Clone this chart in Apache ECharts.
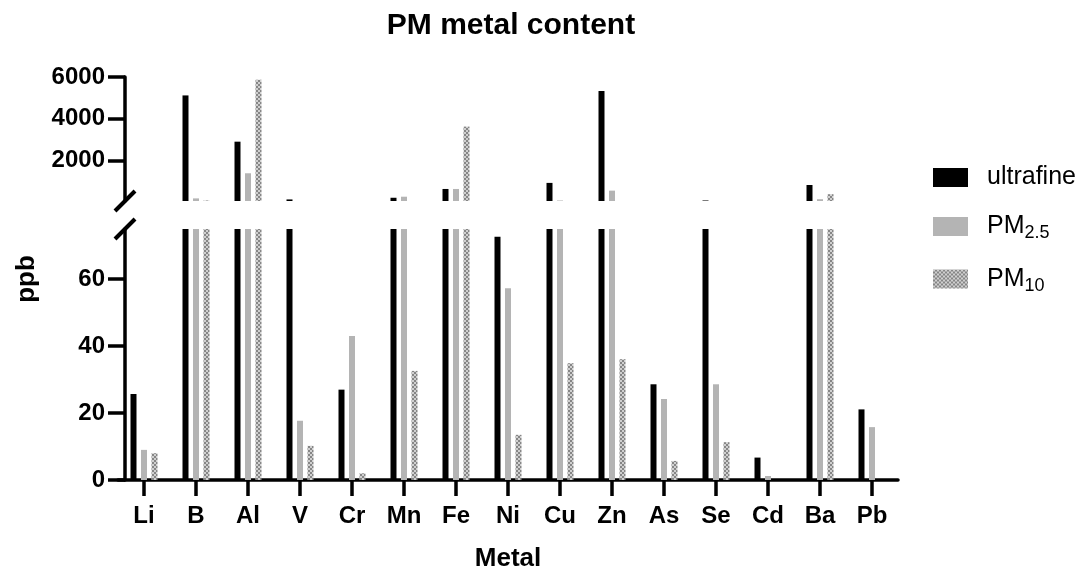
<!DOCTYPE html>
<html>
<head>
<meta charset="utf-8">
<script src="https://cdn.jsdelivr.net/npm/echarts@6/dist/echarts.min.js"></script>
<style>
html,body{margin:0;padding:0;background:#fff;}
#main{width:1088px;height:574px;}
</style>
</head>
<body>
<div id="main"></div>
<script>
// ---- data ----
const categories = ['Li','B','Al','V','Cr','Mn','Fe','Ni','Cu','Zn','As','Se','Cd','Ba','Pb'];
const ultrafine = [25.7, 5120, 2910, 150, 27, 230, 650, 72.7, 940, 5330, 28.6, 100, 6.7, 840, 21.1];
const pm25      = [9.0, 200, 1400, 17.7, 43, 280, 650, 57.3, 100, 570, 24.2, 28.6, 1.2, 160, 15.8];
const pm10      = [8.0, 100, 5870, 10.2, 2.0, 32.6, 3630, 13.5, 34.9, 36.1, 5.7, 11.3, 0, 400, 0];
const seriesNames = ['ultrafine', 'PM2.5', 'PM10'];
const upperTicks = [2000, 4000, 6000];
const lowerTicks = [0, 20, 40, 60];

// ---- layout ----
const FONT = 'Liberation Sans, Arial, Helvetica, sans-serif';
const G_LEFT = 118, G_WIDTH = 780;
const UP_TOP = 77, UP_H = 124;
const LO_TOP = 229, LO_H = 251;
const AX_OFF = -7;
const AXIS_X = G_LEFT - AX_OFF;

function makePattern() {
  const c = document.createElement('canvas');
  c.width = 4; c.height = 4;
  const g = c.getContext('2d');
  g.fillStyle = '#868686';
  g.fillRect(0, 0, 4, 4);
  g.fillStyle = '#d0d0d0';
  g.fillRect(0, 0, 2, 2);
  g.fillRect(2, 2, 2, 2);
  return c;
}
const colors = ['#000000', '#b4b4b4', { image: makePattern(), repeat: 'repeat' }];
const dataSets = [ultrafine, pm25, pm10];

const chart = echarts.init(document.getElementById('main'));

const axisLine = { show: true, lineStyle: { color: '#000', width: 3.5 } };
const yLabel = {
  color: '#000', fontFamily: FONT, fontWeight: 'bold', fontSize: 24, margin: 20,
  formatter: function (v) { return String(v); }
};

const series = [];
for (let g = 0; g < 2; g++) {
  for (let i = 0; i < 3; i++) {
    series.push({
      name: seriesNames[i],
      type: 'bar',
      xAxisIndex: g,
      yAxisIndex: g,
      data: dataSets[i],
      barWidth: 6,
      barGap: '75%',
      clip: true,
      itemStyle: { color: colors[i] },
      emphasis: { disabled: true },
      animation: false
    });
  }
}

const option = {
  animation: false,
  title: {
    text: 'PM metal content',
    left: 506,
    textAlign: 'center',
    top: 6,
    textStyle: { fontFamily: FONT, fontWeight: 'bold', fontSize: 30, color: '#000' }
  },
  legend: {
    data: seriesNames,
    orient: 'vertical',
    left: 928,
    top: 160,
    itemWidth: 35,
    itemHeight: 19,
    itemGap: 24,
    icon: 'rect',
    formatter: function (n) {
      if (n === 'PM2.5') return 'PM{s|2.5}';
      if (n === 'PM10') return 'PM{s|10}';
      return n;
    },
    textStyle: {
      fontFamily: FONT, fontSize: 25, color: '#000', padding: [0, 0, 0, 14],
      rich: { s: { fontFamily: FONT, fontSize: 18, color: '#000', padding: [14, 0, 0, 0] } }
    }
  },
  grid: [
    { left: G_LEFT, width: G_WIDTH, top: UP_TOP, height: UP_H },
    { left: G_LEFT, width: G_WIDTH, top: LO_TOP, height: LO_H }
  ],
  xAxis: [
    { type: 'category', gridIndex: 0, data: categories, show: false },
    {
      type: 'category', gridIndex: 1, data: categories,
      axisLine: axisLine,
      axisTick: { show: true, alignWithLabel: true, length: 16, lineStyle: { color: '#000', width: 3.5 } },
      axisLabel: { interval: 0, color: '#000', fontFamily: FONT, fontWeight: 'bold', fontSize: 24, margin: 24 },
      name: 'Metal',
      nameLocation: 'middle',
      nameGap: 66,
      nameTextStyle: { fontFamily: FONT, fontWeight: 'bold', fontSize: 26, color: '#000' }
    }
  ],
  yAxis: [
    {
      type: 'value', gridIndex: 0, min: 75, max: 6000, offset: AX_OFF,
      splitLine: { show: false },
      axisLine: axisLine,
      axisTick: { show: true, length: 17, customValues: upperTicks, lineStyle: { color: '#000', width: 3.5 } },
      axisLabel: Object.assign({ customValues: upperTicks }, yLabel)
    },
    {
      type: 'value', gridIndex: 1, min: 0, max: 75, offset: AX_OFF,
      splitLine: { show: false },
      axisLine: axisLine,
      axisTick: { show: true, length: 17, customValues: lowerTicks, lineStyle: { color: '#000', width: 3.5 } },
      axisLabel: Object.assign({ customValues: lowerTicks }, yLabel)
    }
  ],
  graphic: [
    {
      type: 'text', x: 27, y: 279, rotation: Math.PI / 2,
      style: { text: 'ppb', fontFamily: FONT, fontWeight: 'bold', fontSize: 26, fill: '#000', align: 'center', verticalAlign: 'middle' }
    },
    {
      type: 'line',
      shape: { x1: AXIS_X - 10, y1: UP_TOP + UP_H + 10, x2: AXIS_X + 10, y2: UP_TOP + UP_H - 10 },
      style: { stroke: '#000', lineWidth: 4 }
    },
    {
      type: 'line',
      shape: { x1: AXIS_X - 10, y1: LO_TOP + 10, x2: AXIS_X + 10, y2: LO_TOP - 10 },
      style: { stroke: '#000', lineWidth: 4 }
    }
  ],
  series: series
};
chart.setOption(option);
</script>
</body>
</html>
